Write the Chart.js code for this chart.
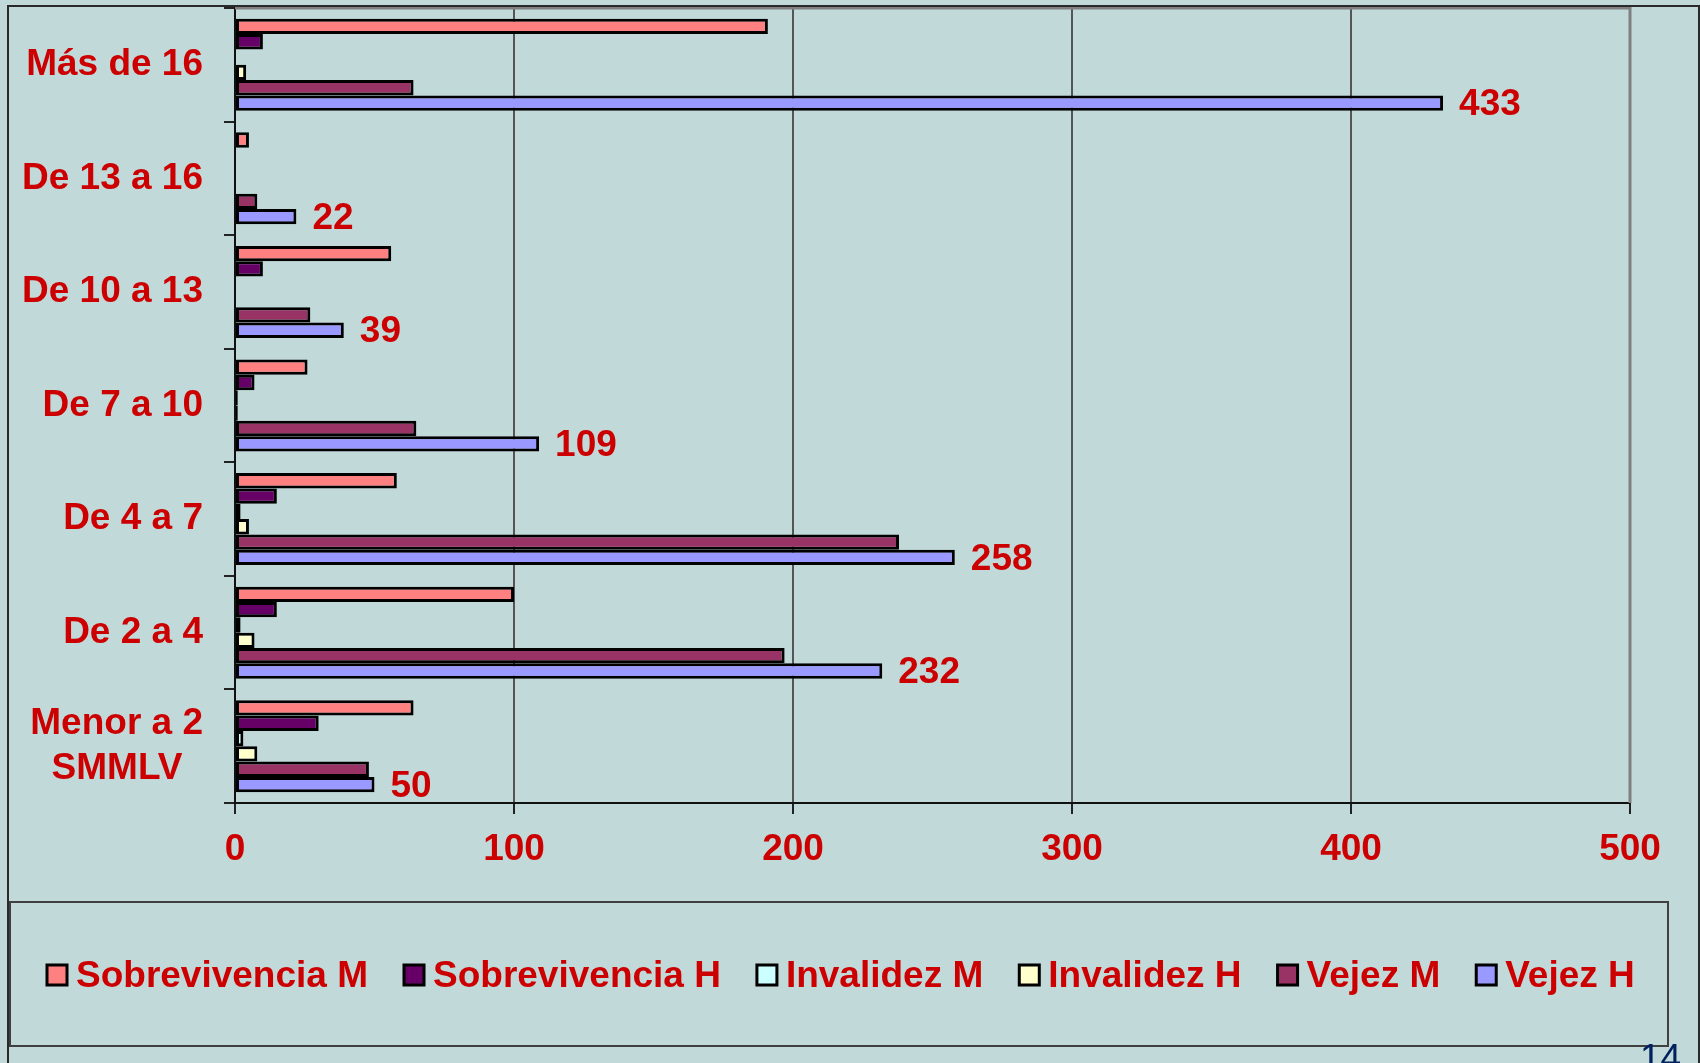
<!DOCTYPE html>
<html>
<head>
<meta charset="utf-8">
<title>Pensiones por rango salarial</title>
<script src="https://cdn.jsdelivr.net/npm/chart.js@4.4.1/dist/chart.umd.min.js"></script>
<style>
    html, body { margin: 0; padding: 0; background: #C1D9D9; }
    #wrap { width: 1700px; height: 1063px; position: relative; overflow: hidden; }
</style>
</head>
<body>
<div id="wrap"><canvas id="chart" width="1700" height="1063"></canvas></div>
<script>
// Categories, top to bottom
const categories = ['Más de 16', 'De 13 a 16', 'De 10 a 13', 'De 7 a 10', 'De 4 a 7', 'De 2 a 4', ['Menor a 2', 'SMMLV\u00a0\u00a0']];

// Series values (same order as categories)
const sobrevivenciaM = [191, 5, 56, 26, 58, 100, 64];
const sobrevivenciaH = [10, 0, 10, 7, 15, 15, 30];
const invalidezM = [0, 0, 0, 1, 2, 2, 3];
const invalidezH = [4, 0, 0, 1, 5, 7, 8];
const vejezM = [64, 8, 27, 65, 238, 197, 48];
const vejezH = [433, 22, 39, 109, 258, 232, 50];

const seriesNames = ['Sobrevivencia M', 'Sobrevivencia H', 'Invalidez M', 'Invalidez H', 'Vejez M', 'Vejez H'];
const seriesColors = ['#FF8080', '#660066', '#CCFFFF', '#FFFFCC', '#993366', '#9999FF'];

const xMin = 0, xMax = 500, xStep = 100;

const RED = '#CC0000';
const FONT = "'Liberation Sans', Arial, sans-serif";

// Frame, legend box, value labels and page number
const decorPlugin = {
    id: 'decor',
    beforeDraw(chart) {
        const ctx = chart.ctx;
        ctx.save();
        ctx.fillStyle = '#C1D9D9';
        ctx.fillRect(0, 0, chart.width, chart.height);
        ctx.restore();
    },
    afterDatasetsDraw(chart) {
        const ctx = chart.ctx;
        const meta = chart.getDatasetMeta(5);
        ctx.save();
        ctx.fillStyle = RED;
        ctx.font = 'bold 37px ' + FONT;
        ctx.textAlign = 'left';
        ctx.textBaseline = 'middle';
        meta.data.forEach((bar, i) => {
            ctx.fillText(String(vejezH[i]), bar.x + 16, bar.y + 2);
        });
        ctx.restore();
    },
    afterDraw(chart) {
        const ctx = chart.ctx;
        const a = chart.chartArea;
        ctx.save();

        // gray plot border top / right
        ctx.strokeStyle = '#808080';
        ctx.lineWidth = 3;
        ctx.beginPath();
        ctx.moveTo(a.left, a.top);
        ctx.lineTo(a.right, a.top);
        ctx.lineTo(a.right, a.bottom);
        ctx.stroke();

        // outer frame
        ctx.strokeStyle = '#2a2a2a';
        ctx.lineWidth = 2;
        ctx.beginPath();
        ctx.moveTo(8, 1063);
        ctx.lineTo(8, 6);
        ctx.lineTo(1699, 6);
        ctx.lineTo(1699, 1063);
        ctx.stroke();

        // legend box
        ctx.strokeStyle = '#404040';
        ctx.lineWidth = 2;
        ctx.strokeRect(10, 902, 1658, 144);

        // legend items
        ctx.font = 'bold 37px ' + FONT;
        ctx.textBaseline = 'alphabetic';
        ctx.textAlign = 'left';
        let x = 47;
        seriesNames.forEach((name, i) => {
            ctx.fillStyle = seriesColors[i];
            ctx.fillRect(x, 965, 20, 20);
            ctx.strokeStyle = '#000';
            ctx.lineWidth = 3;
            ctx.strokeRect(x, 965, 20, 20);
            ctx.fillStyle = RED;
            ctx.fillText(name, x + 29, 987);
            x += 29 + ctx.measureText(name).width + 36;
        });

        // page number
        ctx.fillStyle = '#002060';
        ctx.font = '37px ' + FONT;
        ctx.fillText('14', 1640, 1070);

        ctx.restore();
    }
};

const ctx = document.getElementById('chart').getContext('2d');
const chart = new Chart(ctx, {
    type: 'bar',
    data: {
        labels: categories,
        datasets: [sobrevivenciaM, sobrevivenciaH, invalidezM, invalidezH, vejezM, vejezH].map((values, i) => ({
            label: seriesNames[i],
            data: values,
            backgroundColor: seriesColors[i],
            borderColor: '#000',
            borderWidth: 3,
            borderSkipped: false,
            barPercentage: 1,
            categoryPercentage: 0.81
        }))
    },
    options: {
        indexAxis: 'y',
        responsive: false,
        animation: false,
        devicePixelRatio: 1,
        layout: { padding: { top: 8, right: 70, bottom: 200, left: 0 } },
        plugins: {
            legend: { display: false },
            tooltip: { enabled: false }
        },
        scales: {
            x: {
                min: xMin,
                max: xMax,
                afterFit(scale) { scale.height = 60; },
                ticks: {
                    stepSize: xStep,
                    color: RED,
                    font: { family: FONT, size: 37, weight: 'bold' },
                    padding: 14,
                    maxRotation: 0,
                    autoSkip: false
                },
                grid: {
                    color: '#555',
                    lineWidth: 2,
                    tickLength: 11,
                    tickColor: '#222'
                },
                border: { color: '#111', width: 2 }
            },
            y: {
                afterFit(scale) {
                    scale.width = 235;
                    scale.paddingTop = 0;
                    scale.paddingBottom = 0;
                },
                ticks: {
                    color: RED,
                    font: { family: FONT, size: 37, weight: 'bold', lineHeight: 1.2 },
                    padding: 21,
                    autoSkip: false
                },
                grid: {
                    drawOnChartArea: false,
                    tickLength: 11,
                    tickColor: '#222',
                    lineWidth: 2
                },
                border: { color: '#111', width: 2 }
            }
        }
    },
    plugins: [decorPlugin]
});
</script>
</body>
</html>
